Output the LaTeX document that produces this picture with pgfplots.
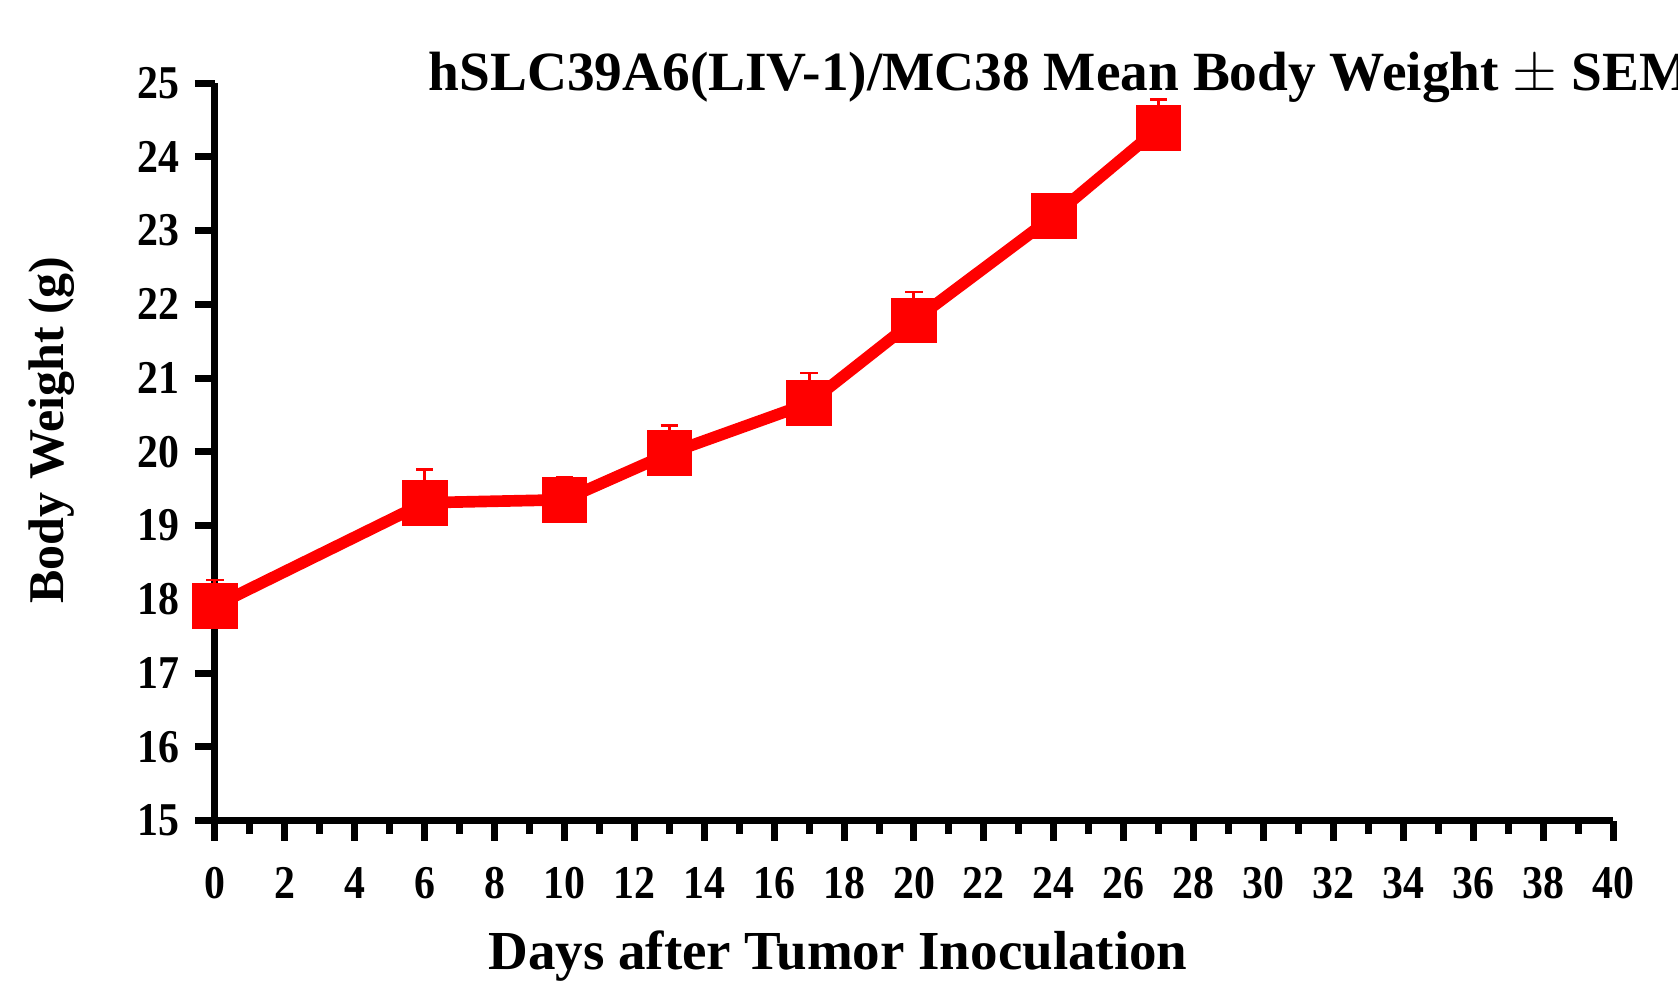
\documentclass[border=0pt]{standalone}
\usepackage{fontspec}
\setmainfont{Liberation Serif}
\newfontfamily\tickfont{Liberation Serif}[FakeStretch=0.89]
\usepackage{pgfplots}
\pgfplotsset{compat=1.18}
\pgfplotstableread{
day  w      e
0    17.91  0.35
6    19.31  0.45
10   19.35  0.30
13   19.98  0.38
17   20.66  0.41
20   21.78  0.39
24   23.20  0.26
27   24.39  0.39
}\bw
\begin{document}
\begin{tikzpicture}
\begin{axis}[
  at={(0,0)}, anchor=south west,
  scale only axis,
  width=419.4pt, height=221.2pt,
  xmin=0, xmax=40, ymin=15, ymax=25,
  axis x line*=bottom, axis y line*=left,
  axis line style={-, line width=2.1pt, black},
  tick align=outside,
  xtick distance=2, ytick distance=1,
  minor x tick num=1,
  major tick length=6pt, minor tick length=3.9pt,
  every tick/.style={black, line width=2.1pt},
  /pgf/number format/assume math mode=true,
  xticklabel style={font=\tickfont\bfseries\fontsize{14.1pt}{16pt}\selectfont, anchor=base, inner sep=0pt, yshift=-17.5pt},
  yticklabel style={font=\tickfont\bfseries\fontsize{14.1pt}{16pt}\selectfont, anchor=east, inner sep=0pt, xshift=-4.5pt},
  every axis title shift=0pt,
  title={hSLC39A6(LIV-1)/MC38 Mean Body Weight $\pm$ SEM},
  title style={at={(axis description cs:0.1524,0.9894)}, anchor=base west, inner sep=0pt,
    font=\bfseries\fontsize{16.6pt}{19pt}\selectfont},
  xlabel={Days after Tumor Inoculation},
  xlabel style={at={(axis description cs:0.4456,-0.2014)}, anchor=base, inner sep=0pt,
    font=\bfseries\fontsize{16.5pt}{19pt}\selectfont},
  ylabel={Body Weight (g)},
  ylabel style={at={(axis description cs:-0.117,0.5296)}, anchor=center, rotate=0, inner sep=0pt,
    font=\bfseries\fontsize{15pt}{18pt}\selectfont},
  clip=false,
]
\addplot+[red, line width=3.5pt, mark=square*,
  mark size=5.1pt, mark options={solid, draw=none, fill=red},
  error bars/.cd, y dir=plus, y explicit,
  error bar style={red, line width=0.9pt},
  error mark options={red, rotate=90, mark size=2.6pt, line width=0.8pt}]
  table[x=day, y=w, y error=e] {\bw};
\end{axis}
\pgfresetboundingbox
\useasboundingbox (-64.5pt,-52.05pt) rectangle (438.9pt,246.15pt);
\end{tikzpicture}
\end{document}
